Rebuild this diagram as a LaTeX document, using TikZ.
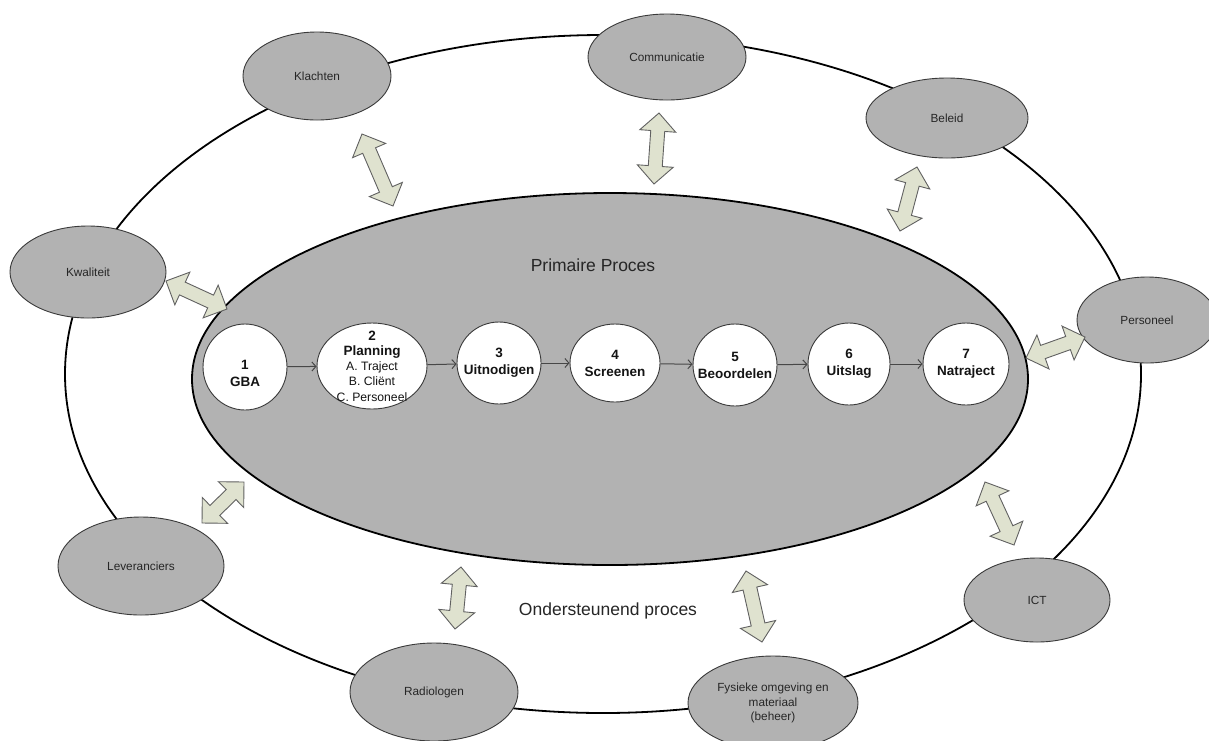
\documentclass[tikz,border=0pt]{standalone}
\usepackage{fontspec}
\setmainfont{Liberation Sans}
\usetikzlibrary{calc,arrows.meta,shapes.geometric}
\definecolor{grayfill}{HTML}{B2B2B2}
\definecolor{arrowfill}{HTML}{DFE2CF}
\definecolor{edgegray}{HTML}{3A3A3A}
\newcommand{\arrhl}{18pt}
\newcommand{\arrhw}{18pt}
\newcommand{\arrsw}{7pt}
\newcommand{\blockdblarrow}[2]{%
  \draw[blockarrow] (#1)
    -- ($(#1)!\arrhl!(#2)!\arrhw!90:(#2)$)
    -- ($(#1)!\arrhl!(#2)!\arrsw!90:(#2)$)
    -- ($(#2)!\arrhl!(#1)!\arrsw!270:(#1)$)
    -- ($(#2)!\arrhl!(#1)!\arrhw!270:(#1)$)
    -- (#2)
    -- ($(#2)!\arrhl!(#1)!\arrhw!90:(#1)$)
    -- ($(#2)!\arrhl!(#1)!\arrsw!90:(#1)$)
    -- ($(#1)!\arrhl!(#2)!\arrsw!270:(#2)$)
    -- ($(#1)!\arrhl!(#2)!\arrhw!270:(#2)$)
    -- cycle;}
\tikzset{
  outerell/.style={ellipse, draw=edgegray, line width=0.9pt, fill=grayfill,
    inner sep=0pt, align=center, text=black!85,
    font=\fontsize{11.8}{14.5}\selectfont},
  bigell/.style={ellipse, draw=black, line width=1.8pt, fill=grayfill, inner sep=0pt},
  stepell/.style={ellipse, draw=edgegray, line width=0.9pt, fill=white, inner sep=0pt},
  steptext/.style={align=center, inner sep=0pt, text=black!92,
    font=\bfseries\fontsize{13.5}{17}\selectfont},
  plantext/.style={align=center, inner sep=0pt, text=black!92,
    font=\fontsize{12.2}{15.25}\selectfont},
  flow/.style={draw=black!72, line width=1pt, -{Straight Barb[length=4pt,width=9pt]}},
  blockarrow/.style={draw=black!62, line width=0.9pt, fill=arrowfill, line join=miter},
  bigtext/.style={text=black!85, font=\fontsize{17.5}{20}\selectfont, inner sep=0pt},
}
\begin{document}
\begin{tikzpicture}[x=1pt,y=-1pt]
\useasboundingbox (0,0) rectangle (1209,740);
\clip (0,0) rectangle (1209,740);
\fill[white] (0,0) rectangle (1209,740);

% outer ring
\draw[line width=1.8pt, black] (603,374) ellipse [x radius=538pt, y radius=339pt];

% supporting ellipses
\node[outerell, minimum width=148pt, minimum height=88pt] (klachten) at (317,76) {Klachten};
\node[outerell, minimum width=158pt, minimum height=86pt] (comm) at (667,57) {Communicatie};
\node[outerell, minimum width=162pt, minimum height=80pt] (beleid) at (947,118) {Beleid};
\node[outerell, minimum width=156pt, minimum height=92pt] (kwal) at (88,272) {Kwaliteit};
\node[outerell, minimum width=140pt, minimum height=86pt] (pers) at (1147,320) {Personeel};
\node[outerell, minimum width=166pt, minimum height=98pt] (lev) at (141,566) {Leveranciers};
\node[outerell, minimum width=146pt, minimum height=84pt] (ict) at (1037,600) {ICT};
\node[outerell, minimum width=170pt, minimum height=94pt] (fys) at (773,703) {Fysieke omgeving en\\materiaal\\(beheer)};
\node[outerell, minimum width=168pt, minimum height=98pt] (radio) at (434,692) {Radiologen};

% primary process
\node[bigell, minimum width=836pt, minimum height=372pt] (prim) at (610,379) {};
\node[bigtext] (primtitle) at (593,265) {Primaire Proces};
\node[bigtext] (ondtitle) at (608,611) {Ondersteunend proces};

% steps
\node[stepell, minimum width=84pt, minimum height=86pt,
  label={[steptext, yshift=-6pt]center:1\\GBA}] (s1) at (245,367) {};
\node[stepell, minimum width=110pt, minimum height=86pt,
  label={[plantext]center:{\bfseries\fontsize{13.5}{15.25}\selectfont 2}\\{\bfseries\fontsize{13.5}{15.25}\selectfont Planning}\\A. Traject\\B. Cliënt\\C. Personeel}] (s2) at (372,366) {};
\node[stepell, minimum width=84pt, minimum height=82pt,
  label={[steptext]center:3\\Uitnodigen}] (s3) at (499,363) {};
\node[stepell, minimum width=90pt, minimum height=78pt,
  label={[steptext]center:4\\Screenen}] (s4) at (615,363) {};
\node[stepell, minimum width=84pt, minimum height=82pt,
  label={[steptext]center:5\\Beoordelen}] (s5) at (735,365) {};
\node[stepell, minimum width=82pt, minimum height=82pt,
  label={[steptext]center:6\\Uitslag}] (s6) at (849,364) {};
\node[stepell, minimum width=86pt, minimum height=82pt,
  label={[steptext]center:7\\Natraject}] (s7) at (966,364) {};

\draw[flow] (s1) -- (s2);
\draw[flow] (s2) -- (s3);
\draw[flow] (s3) -- (s4);
\draw[flow] (s4) -- (s5);
\draw[flow] (s5) -- (s6);
\draw[flow] (s6) -- (s7);

% block double arrows
\coordinate (kwA) at (166,281); \coordinate (kwB) at (227,309);
\coordinate (klA) at (362,134); \coordinate (klB) at (393,206);
\coordinate (coA) at (659,113); \coordinate (coB) at (654,184);
\coordinate (beA) at (917,167); \coordinate (beB) at (900,231);
\coordinate (peA) at (1085,337); \coordinate (peB) at (1026,358);
\coordinate (icA) at (1014,545); \coordinate (icB) at (985,482);
\coordinate (fyA) at (762,642); \coordinate (fyB) at (746,571);
\coordinate (raA) at (455,629); \coordinate (raB) at (461,567);
\coordinate (leA) at (202,523); \coordinate (leB) at (244,482);
\blockdblarrow{kwA}{kwB}
\blockdblarrow{klA}{klB}
\blockdblarrow{coA}{coB}
\blockdblarrow{beA}{beB}
\blockdblarrow{peA}{peB}
\blockdblarrow{icA}{icB}
\blockdblarrow{fyA}{fyB}
\blockdblarrow{raA}{raB}
\blockdblarrow{leA}{leB}
\end{tikzpicture}
\end{document}
